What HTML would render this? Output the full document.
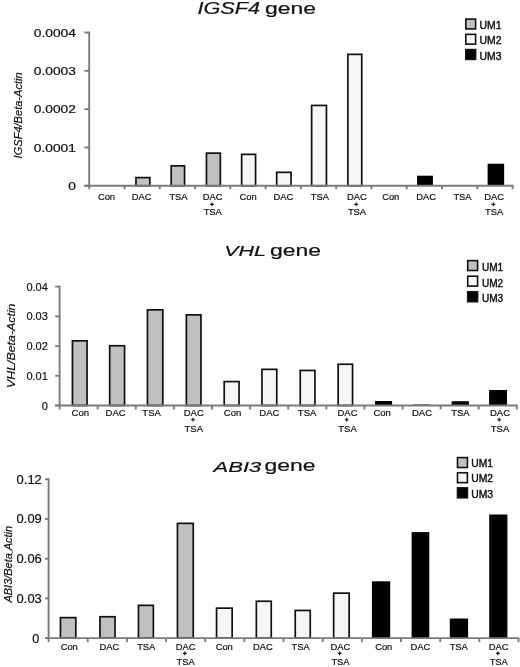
<!DOCTYPE html>
<html><head><meta charset="utf-8"><title>IGSF4, VHL, ABI3 gene expression</title>
<style>
html,body{margin:0;padding:0;background:#fff;}
body{width:520px;height:667px;overflow:hidden;}
svg{display:block;filter:blur(0.3px);font-family:"Liberation Sans",sans-serif;fill:#000;}
svg text{fill:#111;stroke:#111;stroke-width:0.2px;}
</style></head><body>
<svg width="520" height="667" viewBox="0 0 520 667">
<rect width="520" height="667" fill="#fff"/>
<rect x="135.95" y="177.60" width="13.85" height="8.20" fill="#c0c0c0" stroke="#111" stroke-width="1.7"/>
<rect x="171.20" y="165.85" width="13.35" height="19.95" fill="#c0c0c0" stroke="#111" stroke-width="1.7"/>
<rect x="206.45" y="153.15" width="13.90" height="32.65" fill="#c0c0c0" stroke="#111" stroke-width="1.7"/>
<rect x="241.65" y="154.35" width="13.90" height="31.45" fill="#f6f6f6" stroke="#111" stroke-width="1.7"/>
<rect x="276.70" y="172.35" width="14.35" height="13.45" fill="#f6f6f6" stroke="#111" stroke-width="1.7"/>
<rect x="311.65" y="105.45" width="14.80" height="80.35" fill="#f6f6f6" stroke="#111" stroke-width="1.7"/>
<rect x="347.85" y="54.35" width="13.90" height="131.45" fill="#f6f6f6" stroke="#111" stroke-width="1.7"/>
<rect x="417.10" y="175.70" width="15.80" height="10.10" fill="#000"/>
<rect x="487.60" y="163.75" width="16.55" height="22.05" fill="#000"/>
<line x1="89.2" y1="31.55" x2="89.2" y2="189.20000000000002" stroke="#7b7b7b" stroke-width="1.9"/>
<line x1="84.4" y1="185.8" x2="513.5500000000001" y2="185.8" stroke="#7b7b7b" stroke-width="1.9"/>
<line x1="84.4" y1="32.50" x2="89.2" y2="32.50" stroke="#7b7b7b" stroke-width="1.9"/>
<text x="75.8" y="36.6" font-size="10" text-anchor="end" textLength="42" lengthAdjust="spacingAndGlyphs">0.0004</text>
<line x1="84.4" y1="70.83" x2="89.2" y2="70.83" stroke="#7b7b7b" stroke-width="1.9"/>
<text x="75.8" y="74.925" font-size="10" text-anchor="end" textLength="42" lengthAdjust="spacingAndGlyphs">0.0003</text>
<line x1="84.4" y1="109.15" x2="89.2" y2="109.15" stroke="#7b7b7b" stroke-width="1.9"/>
<text x="75.8" y="113.25" font-size="10" text-anchor="end" textLength="42" lengthAdjust="spacingAndGlyphs">0.0002</text>
<line x1="84.4" y1="147.48" x2="89.2" y2="147.48" stroke="#7b7b7b" stroke-width="1.9"/>
<text x="75.8" y="151.57500000000002" font-size="10" text-anchor="end" textLength="42" lengthAdjust="spacingAndGlyphs">0.0001</text>
<line x1="84.4" y1="185.80" x2="89.2" y2="185.80" stroke="#7b7b7b" stroke-width="1.9"/>
<text x="75.8" y="189.9" font-size="10" text-anchor="end" textLength="7.6" lengthAdjust="spacingAndGlyphs">0</text>
<line x1="124.48" y1="185.8" x2="124.48" y2="189.20000000000002" stroke="#7b7b7b" stroke-width="1.9"/>
<line x1="159.77" y1="185.8" x2="159.77" y2="189.20000000000002" stroke="#7b7b7b" stroke-width="1.9"/>
<line x1="195.05" y1="185.8" x2="195.05" y2="189.20000000000002" stroke="#7b7b7b" stroke-width="1.9"/>
<line x1="230.33" y1="185.8" x2="230.33" y2="189.20000000000002" stroke="#7b7b7b" stroke-width="1.9"/>
<line x1="265.62" y1="185.8" x2="265.62" y2="189.20000000000002" stroke="#7b7b7b" stroke-width="1.9"/>
<line x1="300.90" y1="185.8" x2="300.90" y2="189.20000000000002" stroke="#7b7b7b" stroke-width="1.9"/>
<line x1="336.18" y1="185.8" x2="336.18" y2="189.20000000000002" stroke="#7b7b7b" stroke-width="1.9"/>
<line x1="371.47" y1="185.8" x2="371.47" y2="189.20000000000002" stroke="#7b7b7b" stroke-width="1.9"/>
<line x1="406.75" y1="185.8" x2="406.75" y2="189.20000000000002" stroke="#7b7b7b" stroke-width="1.9"/>
<line x1="442.03" y1="185.8" x2="442.03" y2="189.20000000000002" stroke="#7b7b7b" stroke-width="1.9"/>
<line x1="477.32" y1="185.8" x2="477.32" y2="189.20000000000002" stroke="#7b7b7b" stroke-width="1.9"/>
<line x1="512.60" y1="185.8" x2="512.60" y2="189.20000000000002" stroke="#7b7b7b" stroke-width="1.9"/>
<text x="106.50" y="200.1" font-size="9.4" text-anchor="middle">Con</text>
<text x="141.75" y="200.1" font-size="9.4" text-anchor="middle">DAC</text>
<text x="178.50" y="200.1" font-size="9.4" text-anchor="middle">TSA</text>
<text x="212.75" y="200.1" font-size="9.4" text-anchor="middle">DAC</text>
<path d="M210.05 204.30H213.85M211.95 202.40V206.20" stroke="#111" stroke-width="1.15" fill="none"/>
<text x="212.75" y="214.6" font-size="9.4" text-anchor="middle">TSA</text>
<text x="248.10" y="200.1" font-size="9.4" text-anchor="middle">Con</text>
<text x="283.50" y="200.1" font-size="9.4" text-anchor="middle">DAC</text>
<text x="319.90" y="200.1" font-size="9.4" text-anchor="middle">TSA</text>
<text x="357.00" y="200.1" font-size="9.4" text-anchor="middle">DAC</text>
<path d="M354.30 204.30H358.10M356.20 202.40V206.20" stroke="#111" stroke-width="1.15" fill="none"/>
<text x="357.00" y="214.6" font-size="9.4" text-anchor="middle">TSA</text>
<text x="390.75" y="200.1" font-size="9.4" text-anchor="middle">Con</text>
<text x="426.25" y="200.1" font-size="9.4" text-anchor="middle">DAC</text>
<text x="462.50" y="200.1" font-size="9.4" text-anchor="middle">TSA</text>
<text x="494.20" y="200.1" font-size="9.4" text-anchor="middle">DAC</text>
<path d="M491.50 204.30H495.30M493.40 202.40V206.20" stroke="#111" stroke-width="1.15" fill="none"/>
<text x="494.20" y="214.6" font-size="9.4" text-anchor="middle">TSA</text>
<g transform="translate(22,115.4) rotate(-90)">
<text x="0" y="0" font-size="11" text-anchor="middle" font-style="italic" textLength="86" lengthAdjust="spacingAndGlyphs">IGSF4/Beta-Actin</text>
</g>
<text x="197.5" y="13.5" font-size="16" text-anchor="start" font-style="italic" textLength="62.5" lengthAdjust="spacingAndGlyphs">IGSF4</text>
<text x="265" y="14.4" font-size="16" text-anchor="start" textLength="51" lengthAdjust="spacingAndGlyphs">gene</text>
<rect x="465.80" y="19.10" width="9.80" height="9.80" fill="#c0c0c0" stroke="#111" stroke-width="1.6"/>
<text x="479.5" y="29.1" font-size="10" text-anchor="start" textLength="22" lengthAdjust="spacingAndGlyphs" style="stroke-width:0.4px">UM1</text>
<rect x="465.80" y="34.35" width="9.80" height="9.80" fill="#f6f6f6" stroke="#111" stroke-width="1.6"/>
<text x="479.5" y="44.349999999999994" font-size="10" text-anchor="start" textLength="22" lengthAdjust="spacingAndGlyphs" style="stroke-width:0.4px">UM2</text>
<rect x="465.80" y="49.60" width="9.80" height="9.80" fill="#000000" stroke="#111" stroke-width="1.6"/>
<text x="479.5" y="59.599999999999994" font-size="10" text-anchor="start" textLength="22" lengthAdjust="spacingAndGlyphs" style="stroke-width:0.4px">UM3</text>
<rect x="72.45" y="340.85" width="14.60" height="64.65" fill="#c0c0c0" stroke="#111" stroke-width="1.7"/>
<rect x="109.70" y="345.75" width="14.85" height="59.75" fill="#c0c0c0" stroke="#111" stroke-width="1.7"/>
<rect x="147.45" y="309.85" width="15.35" height="95.65" fill="#c0c0c0" stroke="#111" stroke-width="1.7"/>
<rect x="186.35" y="314.85" width="14.60" height="90.65" fill="#c0c0c0" stroke="#111" stroke-width="1.7"/>
<rect x="224.20" y="381.60" width="14.85" height="23.90" fill="#f6f6f6" stroke="#111" stroke-width="1.7"/>
<rect x="261.95" y="369.35" width="14.80" height="36.15" fill="#f6f6f6" stroke="#111" stroke-width="1.7"/>
<rect x="300.25" y="370.45" width="14.70" height="35.05" fill="#f6f6f6" stroke="#111" stroke-width="1.7"/>
<rect x="338.15" y="364.25" width="14.40" height="41.25" fill="#f6f6f6" stroke="#111" stroke-width="1.7"/>
<rect x="375.00" y="401.00" width="17.10" height="4.50" fill="#000"/>
<rect x="413.95" y="404.50" width="16.00" height="1.00" fill="#000"/>
<rect x="451.60" y="401.20" width="17.30" height="4.30" fill="#000"/>
<rect x="489.10" y="390.00" width="17.90" height="15.50" fill="#000"/>
<line x1="59.6" y1="285.65000000000003" x2="59.6" y2="409.5" stroke="#7b7b7b" stroke-width="1.9"/>
<line x1="55.2" y1="405.5" x2="517.75" y2="405.5" stroke="#7b7b7b" stroke-width="1.9"/>
<line x1="55.2" y1="286.60" x2="59.6" y2="286.60" stroke="#7b7b7b" stroke-width="1.9"/>
<text x="47.8" y="290.6" font-size="11" text-anchor="end">0.04</text>
<line x1="55.2" y1="316.33" x2="59.6" y2="316.33" stroke="#7b7b7b" stroke-width="1.9"/>
<text x="47.8" y="320.32500000000005" font-size="11" text-anchor="end">0.03</text>
<line x1="55.2" y1="346.05" x2="59.6" y2="346.05" stroke="#7b7b7b" stroke-width="1.9"/>
<text x="47.8" y="350.05" font-size="11" text-anchor="end">0.02</text>
<line x1="55.2" y1="375.77" x2="59.6" y2="375.77" stroke="#7b7b7b" stroke-width="1.9"/>
<text x="47.8" y="379.775" font-size="11" text-anchor="end">0.01</text>
<line x1="55.2" y1="405.50" x2="59.6" y2="405.50" stroke="#7b7b7b" stroke-width="1.9"/>
<text x="47.8" y="409.5" font-size="11" text-anchor="end">0</text>
<line x1="97.70" y1="405.5" x2="97.70" y2="409.5" stroke="#7b7b7b" stroke-width="1.9"/>
<line x1="135.80" y1="405.5" x2="135.80" y2="409.5" stroke="#7b7b7b" stroke-width="1.9"/>
<line x1="173.90" y1="405.5" x2="173.90" y2="409.5" stroke="#7b7b7b" stroke-width="1.9"/>
<line x1="212.00" y1="405.5" x2="212.00" y2="409.5" stroke="#7b7b7b" stroke-width="1.9"/>
<line x1="250.10" y1="405.5" x2="250.10" y2="409.5" stroke="#7b7b7b" stroke-width="1.9"/>
<line x1="288.20" y1="405.5" x2="288.20" y2="409.5" stroke="#7b7b7b" stroke-width="1.9"/>
<line x1="326.30" y1="405.5" x2="326.30" y2="409.5" stroke="#7b7b7b" stroke-width="1.9"/>
<line x1="364.40" y1="405.5" x2="364.40" y2="409.5" stroke="#7b7b7b" stroke-width="1.9"/>
<line x1="402.50" y1="405.5" x2="402.50" y2="409.5" stroke="#7b7b7b" stroke-width="1.9"/>
<line x1="440.60" y1="405.5" x2="440.60" y2="409.5" stroke="#7b7b7b" stroke-width="1.9"/>
<line x1="478.70" y1="405.5" x2="478.70" y2="409.5" stroke="#7b7b7b" stroke-width="1.9"/>
<line x1="516.80" y1="405.5" x2="516.80" y2="409.5" stroke="#7b7b7b" stroke-width="1.9"/>
<text x="80.25" y="416.1" font-size="9.5" text-anchor="middle">Con</text>
<text x="115.60" y="416.1" font-size="9.5" text-anchor="middle">DAC</text>
<text x="151.60" y="416.1" font-size="9.5" text-anchor="middle">TSA</text>
<text x="193.75" y="416.1" font-size="9.5" text-anchor="middle">DAC</text>
<path d="M191.05 419.70H194.85M192.95 417.80V421.60" stroke="#111" stroke-width="1.15" fill="none"/>
<text x="193.75" y="431.70000000000005" font-size="9.5" text-anchor="middle">TSA</text>
<text x="232.50" y="416.1" font-size="9.5" text-anchor="middle">Con</text>
<text x="269.40" y="416.1" font-size="9.5" text-anchor="middle">DAC</text>
<text x="307.10" y="416.1" font-size="9.5" text-anchor="middle">TSA</text>
<text x="347.50" y="416.1" font-size="9.5" text-anchor="middle">DAC</text>
<path d="M344.80 419.70H348.60M346.70 417.80V421.60" stroke="#111" stroke-width="1.15" fill="none"/>
<text x="347.50" y="431.70000000000005" font-size="9.5" text-anchor="middle">TSA</text>
<text x="382.10" y="416.1" font-size="9.5" text-anchor="middle">Con</text>
<text x="422.00" y="416.1" font-size="9.5" text-anchor="middle">DAC</text>
<text x="460.40" y="416.1" font-size="9.5" text-anchor="middle">TSA</text>
<text x="500.00" y="416.1" font-size="9.5" text-anchor="middle">DAC</text>
<path d="M497.30 419.70H501.10M499.20 417.80V421.60" stroke="#111" stroke-width="1.15" fill="none"/>
<text x="500.00" y="431.70000000000005" font-size="9.5" text-anchor="middle">TSA</text>
<g transform="translate(15.1,345.75) rotate(-90)">
<text x="0" y="0" font-size="11" text-anchor="middle" font-style="italic" textLength="84.5" lengthAdjust="spacingAndGlyphs">VHL/Beta-Actin</text>
</g>
<text x="224.2" y="255.5" font-size="15.5" text-anchor="start" font-style="italic" textLength="41.8" lengthAdjust="spacingAndGlyphs">VHL</text>
<text x="270" y="256.1" font-size="16" text-anchor="start" textLength="51" lengthAdjust="spacingAndGlyphs">gene</text>
<rect x="467.70" y="260.60" width="9.90" height="9.90" fill="#c0c0c0" stroke="#111" stroke-width="1.6"/>
<text x="481.9" y="270.90000000000003" font-size="10" text-anchor="start" textLength="21.2" lengthAdjust="spacingAndGlyphs" style="stroke-width:0.4px">UM1</text>
<rect x="467.70" y="276.20" width="9.90" height="9.90" fill="#f6f6f6" stroke="#111" stroke-width="1.6"/>
<text x="481.9" y="286.50000000000006" font-size="10" text-anchor="start" textLength="21.2" lengthAdjust="spacingAndGlyphs" style="stroke-width:0.4px">UM2</text>
<rect x="467.70" y="291.80" width="9.90" height="9.90" fill="#000000" stroke="#111" stroke-width="1.6"/>
<text x="481.9" y="302.1" font-size="10" text-anchor="start" textLength="21.2" lengthAdjust="spacingAndGlyphs" style="stroke-width:0.4px">UM3</text>
<rect x="60.45" y="617.65" width="15.35" height="20.45" fill="#c0c0c0" stroke="#111" stroke-width="1.7"/>
<rect x="99.95" y="616.75" width="15.10" height="21.35" fill="#c0c0c0" stroke="#111" stroke-width="1.7"/>
<rect x="138.45" y="605.35" width="14.90" height="32.75" fill="#c0c0c0" stroke="#111" stroke-width="1.7"/>
<rect x="177.45" y="523.35" width="15.80" height="114.75" fill="#c0c0c0" stroke="#111" stroke-width="1.7"/>
<rect x="216.55" y="608.15" width="15.60" height="29.95" fill="#f6f6f6" stroke="#111" stroke-width="1.7"/>
<rect x="256.35" y="601.25" width="14.90" height="36.85" fill="#f6f6f6" stroke="#111" stroke-width="1.7"/>
<rect x="295.25" y="610.45" width="15.00" height="27.65" fill="#f6f6f6" stroke="#111" stroke-width="1.7"/>
<rect x="333.65" y="593.15" width="15.50" height="44.95" fill="#f6f6f6" stroke="#111" stroke-width="1.7"/>
<rect x="371.90" y="581.30" width="18.30" height="56.80" fill="#000"/>
<rect x="411.60" y="532.10" width="17.70" height="106.00" fill="#000"/>
<rect x="449.80" y="618.50" width="18.30" height="19.60" fill="#000"/>
<rect x="489.20" y="514.50" width="18.20" height="123.60" fill="#000"/>
<line x1="48.6" y1="478.3" x2="48.6" y2="642.1" stroke="#7b7b7b" stroke-width="1.9"/>
<line x1="45.0" y1="638.1" x2="519.45" y2="638.1" stroke="#7b7b7b" stroke-width="1.9"/>
<line x1="45.0" y1="479.25" x2="48.6" y2="479.25" stroke="#7b7b7b" stroke-width="1.9"/>
<text x="41.8" y="483.65" font-size="12.5" text-anchor="end" textLength="25.2" lengthAdjust="spacingAndGlyphs">0.12</text>
<line x1="45.0" y1="518.96" x2="48.6" y2="518.96" stroke="#7b7b7b" stroke-width="1.9"/>
<text x="41.8" y="523.3625" font-size="12.5" text-anchor="end" textLength="25.2" lengthAdjust="spacingAndGlyphs">0.09</text>
<line x1="45.0" y1="558.67" x2="48.6" y2="558.67" stroke="#7b7b7b" stroke-width="1.9"/>
<text x="41.8" y="563.0749999999999" font-size="12.5" text-anchor="end" textLength="25.2" lengthAdjust="spacingAndGlyphs">0.06</text>
<line x1="45.0" y1="598.39" x2="48.6" y2="598.39" stroke="#7b7b7b" stroke-width="1.9"/>
<text x="41.8" y="602.7875" font-size="12.5" text-anchor="end" textLength="25.2" lengthAdjust="spacingAndGlyphs">0.03</text>
<line x1="45.0" y1="638.10" x2="48.6" y2="638.10" stroke="#7b7b7b" stroke-width="1.9"/>
<text x="39.3" y="642.5" font-size="12.5" text-anchor="end">0</text>
<line x1="87.76" y1="638.1" x2="87.76" y2="642.1" stroke="#7b7b7b" stroke-width="1.9"/>
<line x1="126.92" y1="638.1" x2="126.92" y2="642.1" stroke="#7b7b7b" stroke-width="1.9"/>
<line x1="166.07" y1="638.1" x2="166.07" y2="642.1" stroke="#7b7b7b" stroke-width="1.9"/>
<line x1="205.23" y1="638.1" x2="205.23" y2="642.1" stroke="#7b7b7b" stroke-width="1.9"/>
<line x1="244.39" y1="638.1" x2="244.39" y2="642.1" stroke="#7b7b7b" stroke-width="1.9"/>
<line x1="283.55" y1="638.1" x2="283.55" y2="642.1" stroke="#7b7b7b" stroke-width="1.9"/>
<line x1="322.71" y1="638.1" x2="322.71" y2="642.1" stroke="#7b7b7b" stroke-width="1.9"/>
<line x1="361.87" y1="638.1" x2="361.87" y2="642.1" stroke="#7b7b7b" stroke-width="1.9"/>
<line x1="401.02" y1="638.1" x2="401.02" y2="642.1" stroke="#7b7b7b" stroke-width="1.9"/>
<line x1="440.18" y1="638.1" x2="440.18" y2="642.1" stroke="#7b7b7b" stroke-width="1.9"/>
<line x1="479.34" y1="638.1" x2="479.34" y2="642.1" stroke="#7b7b7b" stroke-width="1.9"/>
<line x1="518.50" y1="638.1" x2="518.50" y2="642.1" stroke="#7b7b7b" stroke-width="1.9"/>
<text x="69.25" y="650.2" font-size="9.4" text-anchor="middle">Con</text>
<text x="109.50" y="650.2" font-size="9.4" text-anchor="middle">DAC</text>
<text x="146.25" y="650.2" font-size="9.4" text-anchor="middle">TSA</text>
<text x="185.60" y="650.2" font-size="9.4" text-anchor="middle">DAC</text>
<path d="M182.90 653.40H186.70M184.80 651.50V655.30" stroke="#111" stroke-width="1.15" fill="none"/>
<text x="185.60" y="664.6" font-size="9.4" text-anchor="middle">TSA</text>
<text x="224.25" y="650.2" font-size="9.4" text-anchor="middle">Con</text>
<text x="263.00" y="650.2" font-size="9.4" text-anchor="middle">DAC</text>
<text x="300.60" y="650.2" font-size="9.4" text-anchor="middle">TSA</text>
<text x="340.50" y="650.2" font-size="9.4" text-anchor="middle">DAC</text>
<path d="M337.80 653.40H341.60M339.70 651.50V655.30" stroke="#111" stroke-width="1.15" fill="none"/>
<text x="340.50" y="664.6" font-size="9.4" text-anchor="middle">TSA</text>
<text x="383.75" y="650.2" font-size="9.4" text-anchor="middle">Con</text>
<text x="420.50" y="650.2" font-size="9.4" text-anchor="middle">DAC</text>
<text x="458.75" y="650.2" font-size="9.4" text-anchor="middle">TSA</text>
<text x="498.75" y="650.2" font-size="9.4" text-anchor="middle">DAC</text>
<path d="M496.05 653.40H499.85M497.95 651.50V655.30" stroke="#111" stroke-width="1.15" fill="none"/>
<text x="498.75" y="664.6" font-size="9.4" text-anchor="middle">TSA</text>
<g transform="translate(11.7,564.25) rotate(-90)">
<text x="0" y="0" font-size="10.5" text-anchor="middle" font-style="italic" textLength="76.5" lengthAdjust="spacingAndGlyphs">ABI3/Beta<tspan font-size='5' dy='0.5'>_</tspan><tspan dy='-0.5'>Actin</tspan></text>
</g>
<text x="213.6" y="472.1" font-size="15.5" text-anchor="start" font-style="italic" textLength="47.6" lengthAdjust="spacingAndGlyphs">ABI3</text>
<text x="264.5" y="471.4" font-size="16.5" text-anchor="start" textLength="51" lengthAdjust="spacingAndGlyphs">gene</text>
<rect x="457.50" y="457.60" width="9.90" height="9.90" fill="#c0c0c0" stroke="#111" stroke-width="1.6"/>
<text x="471.2" y="467.2" font-size="10" text-anchor="start" textLength="21.8" lengthAdjust="spacingAndGlyphs" style="stroke-width:0.4px">UM1</text>
<rect x="457.50" y="472.75" width="9.90" height="9.90" fill="#f6f6f6" stroke="#111" stroke-width="1.6"/>
<text x="471.2" y="482.34999999999997" font-size="10" text-anchor="start" textLength="21.8" lengthAdjust="spacingAndGlyphs" style="stroke-width:0.4px">UM2</text>
<rect x="457.50" y="487.90" width="9.90" height="9.90" fill="#000000" stroke="#111" stroke-width="1.6"/>
<text x="471.2" y="497.5" font-size="10" text-anchor="start" textLength="21.8" lengthAdjust="spacingAndGlyphs" style="stroke-width:0.4px">UM3</text>
</svg>
</body></html>
